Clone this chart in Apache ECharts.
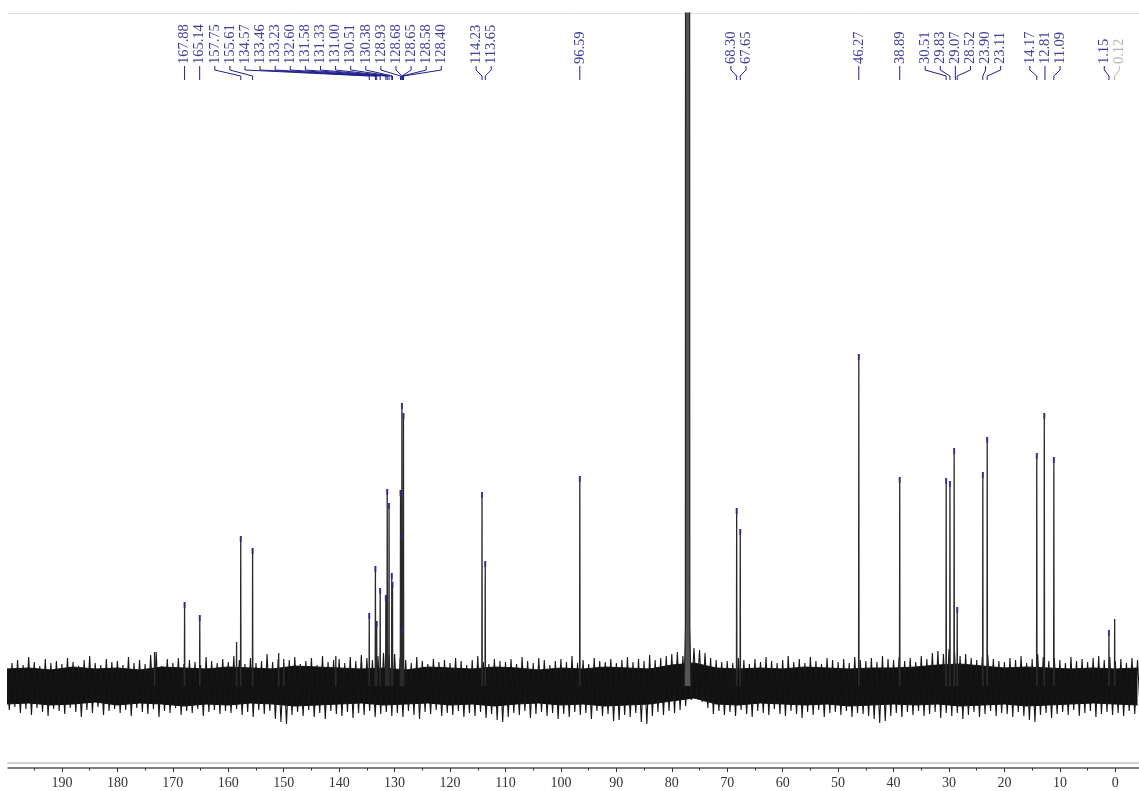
<!DOCTYPE html>
<html><head><meta charset="utf-8">
<script src="https://cdn.jsdelivr.net/npm/echarts@6/dist/echarts.min.js"></script>
<style>html,body{margin:0;padding:0;background:#fff}#c{width:1139px;height:791px}</style>
</head><body><div id="c"></div>
<script>
// ---- picked peaks (ppm) and their heights (arbitrary units, baseline = 0)
const peakPpm = [167.88,165.14,157.75,155.61,134.57,133.46,133.23,132.60,131.58,131.33,131.00,130.51,130.38,128.93,128.68,128.65,128.58,128.40,
                 114.23,113.65,96.59,68.30,67.65,46.27,38.89,30.51,29.83,29.07,28.52,23.90,23.11,14.17,12.81,11.09,1.15,0.12];
const peakHeight = [84,71,150,138,73,120,65,98,91,197,183,113,104,196,283,153,59,273,
                    194,125,210,178,157,332,209,208,205,238,79,214,249,233,273,229,56,67];
const grayLabels = ['0.12'];
// small unpicked signals
const minorPpm = [173.3,158.5,150.9,150.0,140.6];
const minorHeight = [34,44,33,27,30];
// CDCl3 solvent signal (goes off scale)
const solventPpm = [77.75,77.55,77.48,77.32,77.16,77.00,76.84,76.75,76.55];
const solventHeight = [0,60,2000,900,2000,900,2000,60,0];
// baseline noise: spike envelope, one value per ppm from 200 down to -4
const noiseStart = 200;
const noiseUpper = [
 19,23,26,21,29,24,20,27,23,25, 22,28,24,20,26,30,23,21,27,24, 25,21,29,23,26,22,31,34,20,27,
 23,28,22,26,24,21,29,25,23,27, 24,30,26,22,28,23,25,32,24,27, 23,26,29,22,25,28,21,30,24,26,
 27,23,29,25,31,28,26,30,33,31, 32,28,26,23,29,25,22,27,24,26, 23,28,25,21,26,30,24,22,27,25,
 24,27,22,29,25,23,28,26,21,25, 27,24,30,23,26,22,28,25,24,27, 23,26,29,24,27,25,31,26,28,30,
 32,34,30,36,38,36,33,28,26,24, 25,23,28,26,22,27,24,29,25,23, 26,30,24,27,23,29,25,22,28,26,
 24,27,23,29,26,25,28,24,30,27, 26,29,25,28,24,30,27,33,35,32, 37,34,30,32,28,26,29,31,27,25,
 24,28,26,30,23,27,32,29,25,28, 26,23,29,25,27,24,28,30,26,29, 25,27,23,28,26];
const noiseLower = [
 -24,-21,-27,-23,-29,-22,-26,-30,-23,-25, -28,-22,-26,-31,-24,-27,-21,-29,-25,-23, -27,-24,-30,-22,-26,-28,-23,-31,-25,-27,
 -22,-29,-25,-27,-23,-30,-26,-24,-28,-25, -27,-23,-29,-26,-31,-24,-28,-25,-33,-36, -38,-29,-26,-30,-24,-31,-27,-33,-25,-28,
 -30,-26,-32,-27,-29,-25,-31,-28,-26,-30, -27,-31,-25,-29,-33,-26,-28,-24,-30,-27, -29,-25,-31,-27,-30,-26,-32,-28,-34,-36,
 -31,-27,-29,-25,-32,-28,-26,-30,-27,-33, -28,-31,-26,-29,-27,-33,-25,-30,-28,-35, -34,-29,-31,-27,-36,-38,-30,-26,-29,-25,
 -27,-24,-20,-14,-12,-16,-22,-28,-25,-29, -26,-30,-24,-28,-31,-25,-27,-29,-23,-28, -30,-25,-28,-32,-26,-29,-24,-31,-27,-26,
 -29,-25,-31,-27,-28,-30,-33,-37,-35,-30, -27,-31,-26,-29,-25,-30,-28,-26,-32,-27, -30,-27,-33,-29,-26,-31,-28,-25,-30,-27,
 -28,-31,-26,-30,-34,-36,-29,-27,-32,-28, -26,-29,-24,-30,-27,-25,-31,-28,-26,-29, -27,-30,-25,-28,-26];
// dense noise core, one value per 4 ppm from 200 down to -4
const coreStep = 4;
const coreUpper = [17,18,16,19,17,18,16,19,18,17, 19,18,17,20,19,18,17,18,16,19, 18,17,19,18,16,18,17,19,18,17,
                   21,23,18,17,18,17,19,18,17,18, 18,19,21,22,20,18,19,18,17,18, 17,18];
const coreLower = [-18,-17,-19,-18,-16,-19,-17,-18,-20,-18, -19,-17,-18,-20,-19,-18,-17,-19,-18,-17, -19,-18,-20,-18,-17,-19,-18,-20,-19,-18,
                   -15,-12,-18,-19,-17,-18,-19,-18,-20,-19, -18,-19,-18,-20,-19,-18,-20,-19,-18,-17, -18,-19];
// axis ticks
const majorTicks = [0,10,20,30,40,50,60,70,80,90,100,110,120,130,140,150,160,170,180,190];
const minorTicks = [5,15,25,35,45,55,65,75,85,95,105,115,125,135,145,155,165,175,185,195];

// label grouping: [first index, last index, anchor]
const labelGroups = [[0,17,'start'],[18,19,'center'],[20,20,'center'],[21,22,'center'],[23,23,'center'],
                     [24,24,'center'],[25,30,'center'],[31,33,'center'],[34,35,'center']];

const X_MIN = -4.27, X_MAX = 199.73;
const SERIF = '"Liberation Serif","DejaVu Serif",serif';

// zig-zag through the spike envelope (upper at each ppm, lower half a ppm later)
const zigzag = [];
noiseUpper.forEach((v,i)=>{ zigzag.push([noiseStart - i, v]); zigzag.push([noiseStart - i - 0.5, noiseLower[i]]); });
const coreUp = coreUpper.map((v,i)=>[noiseStart - i*coreStep, v]);
const coreLo = coreLower.map((v,i)=>[noiseStart - i*coreStep, v]);

const allPeaks = peakPpm.map((p,i)=>[p,peakHeight[i]])
  .concat(minorPpm.map((p,i)=>[p,minorHeight[i]]))
  .sort((a,b)=>b[0]-a[0]);
const peakLine = [];
allPeaks.forEach(([p,h])=>{ peakLine.push([p+0.04,0],[p,h],[p-0.04,0],['-','-']); });
const solventData = solventPpm.map((p,i)=>[p,solventHeight[i]]);
const markerData = peakPpm.map((p,i)=>[p,peakHeight[i]]).filter((d,i)=>grayLabels.indexOf(peakPpm[i].toFixed(2))<0);

const SP = 15.1;
function layoutLabels(api){
  const px = peakPpm.map(p=>api.coord([p,0])[0]);
  const lx = new Array(px.length);
  labelGroups.forEach(([a,b,mode])=>{
    const n = b-a+1;
    let x0;
    if(mode==='start'){ x0 = px[a]; }
    else { let s=0; for(let k=a;k<=b;k++) s+=px[k]; x0 = s/n - (n-1)*SP/2; }
    for(let k=a;k<=b;k++) lx[k] = x0 + (k-a)*SP;
  });
  return {px, lx};
}

function renderLabel(params, api){
  const i = api.value(2);
  const L = layoutLabels(api);
  const lx = L.lx[i], px = L.px[i];
  const txt = peakPpm[i].toFixed(2);
  const gray = grayLabels.indexOf(txt) >= 0;
  const tcol = gray ? '#b4b4b4' : '#3d3d9e';
  const lcol = gray ? '#b4b4b4' : '#1f1f8c';
  let pts;
  if(Math.abs(lx-px) < 1.5){ pts = [[lx,66],[lx,80]]; }
  else { pts = [[lx,66],[lx,70],[px,76],[px,80]]; }
  return {type:'group', children:[
    {type:'text', x: lx, y: 64, rotation: Math.PI/2,
     style:{text: txt, fill: tcol, font: '14.5px '+SERIF, align:'left', verticalAlign:'middle'}},
    {type:'polyline', shape:{points: pts}, style:{stroke: lcol, lineWidth: 1, fill: null}}
  ]};
}

const baseX = {type:'value', min:X_MIN, max:X_MAX, inverse:true, splitLine:{show:false}};
const chart = echarts.init(document.getElementById('c'), null, {renderer:'canvas'});
chart.setOption({
  animation:false,
  backgroundColor:'#ffffff',
  grid:{left:8, right:0, top:13, bottom:28},
  xAxis:[
    Object.assign({}, baseX, {position:'bottom', offset:0,
      axisLine:{show:true,onZero:false,lineStyle:{color:'#d2d2d2',width:2}}, axisTick:{show:false}, axisLabel:{show:false}}),
    Object.assign({}, baseX, {position:'bottom', offset:5,
      axisLine:{show:true,onZero:false,lineStyle:{color:'#555555',width:1.5}},
      axisTick:{show:true,length:4,customValues:majorTicks,lineStyle:{color:'#333',width:1}},
      axisLabel:{show:true,customValues:majorTicks,margin:8,color:'#333',fontSize:14,fontFamily:SERIF}}),
    Object.assign({}, baseX, {position:'bottom', offset:5,
      axisLine:{show:false,onZero:false},
      axisTick:{show:true,length:2.5,customValues:minorTicks,lineStyle:{color:'#333',width:1}},
      axisLabel:{show:false}}),
    Object.assign({}, baseX, {position:'top', offset:0,
      axisLine:{show:true,onZero:false,lineStyle:{color:'#dcdcdc',width:1}}, axisTick:{show:false}, axisLabel:{show:false}})
  ],
  yAxis:{type:'value', min:-77, max:673, show:false, splitLine:{show:false}},
  series:[
    {type:'line', name:'core+', data:coreUp, showSymbol:false, symbol:'none', z:2,
     lineStyle:{color:'#111',width:1}, areaStyle:{color:'#111',opacity:1,origin:0}},
    {type:'line', name:'core-', data:coreLo, showSymbol:false, symbol:'none', z:2,
     lineStyle:{color:'#111',width:1}, areaStyle:{color:'#111',opacity:1,origin:0}},
    {type:'line', name:'noise', data:zigzag, showSymbol:false, symbol:'none', z:2,
     lineStyle:{color:'#161616',width:1.1}},
    {type:'line', name:'solvent', data:solventData, showSymbol:false, symbol:'none', z:3, clip:true,
     lineStyle:{color:'#222',width:1.2}, areaStyle:{color:'#555',opacity:1,origin:0}},
    {type:'line', name:'peaks', data:peakLine, showSymbol:false, symbol:'none', z:3, clip:true, connectNulls:false,
     lineStyle:{color:'#2a2a2a',width:1.3}},
    {type:'scatter', name:'picks', data:markerData, symbol:'rect', symbolSize:[2,6], symbolOffset:[0,3], z:4,
     itemStyle:{color:'#2b2b9e'}, silent:true},
    {type:'custom', name:'labels', data:peakPpm.map((p,i)=>[p,peakHeight[i],i]), renderItem:renderLabel,
     encode:{x:0,y:1}, clip:false, z:5, silent:true}
  ]
});
</script></body></html>
